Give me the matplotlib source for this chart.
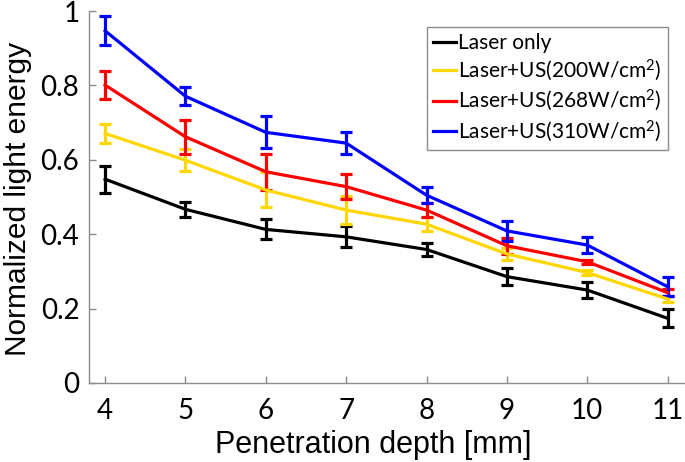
import matplotlib
matplotlib.use('Agg')
import matplotlib.pyplot as plt
from matplotlib.lines import Line2D

# penetration depth [mm]
depth = [4, 5, 6, 7, 8, 9, 10, 11]

# normalized light energy (mean, error)
laser_only = [0.548, 0.467, 0.413, 0.393, 0.359, 0.286, 0.250, 0.174]
laser_only_err = [0.036, 0.021, 0.027, 0.028, 0.018, 0.022, 0.022, 0.024]

us_200 = [0.671, 0.599, 0.519, 0.465, 0.427, 0.347, 0.297, 0.226]
us_200_err = [0.025, 0.030, 0.047, 0.038, 0.018, 0.017, 0.006, 0.007]

us_268 = [0.801, 0.662, 0.568, 0.528, 0.465, 0.369, 0.326, 0.243]
us_268_err = [0.037, 0.045, 0.048, 0.034, 0.020, 0.021, 0.005, 0.010]

us_310 = [0.947, 0.771, 0.674, 0.645, 0.505, 0.409, 0.371, 0.259]
us_310_err = [0.039, 0.024, 0.043, 0.030, 0.021, 0.026, 0.022, 0.025]

labels = ['Laser only',
          r'Laser+US(200W/cm$^2$)',
          r'Laser+US(268W/cm$^2$)',
          r'Laser+US(310W/cm$^2$)']
colors = ['#000000', '#FFD700', '#FF0000', '#0000FF']

plt.rcParams['font.family'] = ['Lato', 'DejaVu Sans']
plt.rcParams['mathtext.default'] = 'regular'

fig = plt.figure(figsize=(6.85, 4.62), dpi=100)
ax = fig.add_axes([0.130, 0.171, 0.868, 0.805])

series = [(laser_only, laser_only_err), (us_200, us_200_err),
          (us_268, us_268_err), (us_310, us_310_err)]
for (vals, errs), col in zip(series, colors):
    ax.errorbar(depth, vals, yerr=errs, color=col, linewidth=2.3,
                elinewidth=2.3, capsize=4.5, capthick=2.3)

ax.set_xlim(3.8, 11.2)
ax.set_ylim(0, 1)
ax.set_xticks(depth)
ax.set_yticks([0, 0.2, 0.4, 0.6, 0.8, 1])
ax.set_yticklabels(['0', '0.2', '0.4', '0.6', '0.8', '1'])

for side in ['top', 'right']:
    ax.spines[side].set_visible(False)
for side in ['left', 'bottom']:
    ax.spines[side].set_color('#8c8c8c')
    ax.spines[side].set_linewidth(1.0)
ax.tick_params(direction='in', length=5, width=1.0, color='#8c8c8c',
               labelsize=20, labelcolor='black')
ax.tick_params(axis='x', pad=11)
ax.tick_params(axis='y', pad=7)

label_font = ['Liberation Sans', 'DejaVu Sans']
ax.set_xlabel('Penetration depth [mm]', fontsize=22, family=label_font,
              va='baseline')
ax.xaxis.set_label_coords(0.478, -0.188)
ax.set_ylabel('Normalized light energy', fontsize=21.5, family=label_font)
ax.yaxis.set_label_coords(-0.096, 0.495)

handles = [Line2D([], [], color=c, linewidth=2.3) for c in colors]
leg = ax.legend(handles, labels, loc='upper right',
                bbox_to_anchor=(0.973, 0.957),
                fontsize=15, handlelength=1.1, handletextpad=0.1,
                borderpad=0.3, labelspacing=0.22, fancybox=False,
                framealpha=1, borderaxespad=0)
leg.get_frame().set_edgecolor('#8c8c8c')
leg.get_frame().set_linewidth(1.0)

fig.savefig('out.png', dpi=100)
